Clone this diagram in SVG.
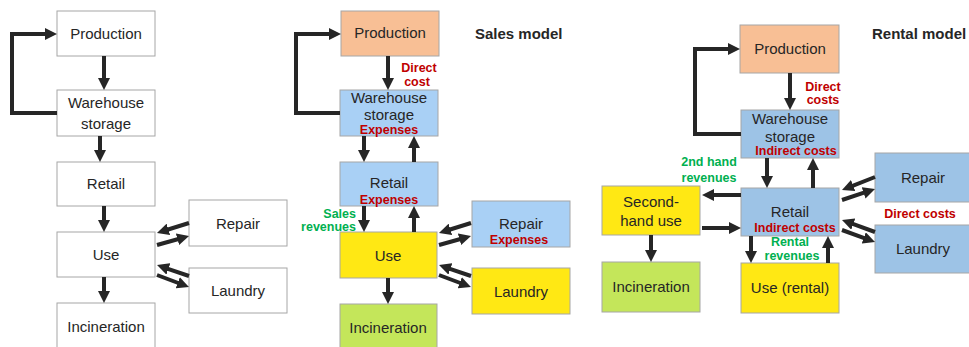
<svg xmlns="http://www.w3.org/2000/svg" width="969" height="347" viewBox="0 0 969 347">
<defs>
<marker id="ah" markerUnits="userSpaceOnUse" markerWidth="12" markerHeight="12" viewBox="0 0 12 12" refX="2" refY="6" orient="auto">
<path d="M0,0 L12,6 L0,12 z" fill="#262626"/>
</marker>
<style>
.box{stroke:#A6A6A6;stroke-width:1}
.w{fill:#FFFFFF}
.or{fill:#F8BF95}
.lb{fill:#A9D0F5}
.bl{fill:#9DC3E6}
.ye{fill:#FFE814}
.gr{fill:#C4E65A}
.t{font-family:"Liberation Sans",Arial,sans-serif;font-size:15px;fill:#262626;text-anchor:middle}
.red{font-family:"Liberation Sans",Arial,sans-serif;font-size:12.5px;font-weight:bold;fill:#C00000;text-anchor:middle}
.grn{font-family:"Liberation Sans",Arial,sans-serif;font-size:12.5px;font-weight:bold;fill:#00B050;text-anchor:middle}
.ttl{font-family:"Liberation Sans",Arial,sans-serif;font-size:15px;font-weight:bold;fill:#262626}
.c line,.c path{stroke:#262626;stroke-width:4;fill:none;marker-end:url(#ah)}
</style>
</defs>
<rect width="969" height="347" fill="#FFFFFF"/>

<!-- Left (generic) -->
<g id="l-production"><rect class="box w" x="57" y="11" width="98" height="45"/><text class="t" x="106" y="39">Production</text></g>
<g id="l-warehouse"><rect class="box w" x="57" y="90" width="98" height="46"/><text class="t" x="106" y="108">Warehouse</text><text class="t" x="106" y="129">storage</text></g>
<g id="l-retail"><rect class="box w" x="57" y="162" width="98" height="44"/><text class="t" x="106" y="189">Retail</text></g>
<g id="l-use"><rect class="box w" x="57" y="232" width="98" height="45"/><text class="t" x="106" y="260">Use</text></g>
<g id="l-incineration"><rect class="box w" x="57" y="303" width="98" height="50"/><text class="t" x="106" y="332">Incineration</text></g>
<g id="l-repair"><rect class="box w" x="189" y="200" width="98" height="46"/><text class="t" x="238" y="229">Repair</text></g>
<g id="l-laundry"><rect class="box w" x="189" y="268" width="98" height="45"/><text class="t" x="238" y="296">Laundry</text></g>

<!-- Middle (sales model) -->
<text id="sales-title" class="ttl" x="475" y="39">Sales model</text>
<g id="m-production"><rect class="box or" x="341" y="11" width="98" height="45"/><text class="t" x="390" y="38">Production</text></g>
<g id="m-warehouse"><rect class="box lb" x="340" y="90" width="98" height="46"/><text class="t" x="389" y="103">Warehouse</text><text class="t" x="389" y="120">storage</text><text class="red" x="389" y="134">Expenses</text></g>
<g id="m-retail"><rect class="box lb" x="340" y="162" width="98" height="44"/><text class="t" x="389" y="188">Retail</text><text class="red" x="389" y="204">Expenses</text></g>
<g id="m-use"><rect class="box ye" x="340" y="232" width="97" height="46"/><text class="t" x="388" y="261">Use</text></g>
<g id="m-incineration"><rect class="box gr" x="340" y="304" width="97" height="50"/><text class="t" x="388" y="333">Incineration</text></g>
<g id="m-repair"><rect class="box lb" x="472" y="201" width="98" height="46"/><text class="t" x="521" y="229">Repair</text><text class="red" x="519" y="244">Expenses</text></g>
<g id="m-laundry"><rect class="box ye" x="472" y="268" width="98" height="46"/><text class="t" x="521" y="297">Laundry</text></g>
<g id="m-labels">
<text class="red" x="419" y="72">Direct</text><text class="red" x="417" y="86">cost</text>
<text class="grn" x="356" y="218" style="text-anchor:end">Sales</text><text class="grn" x="356" y="231" style="text-anchor:end">revenues</text>
</g>

<!-- Right (rental model) -->
<text id="rental-title" class="ttl" x="872" y="39">Rental model</text>
<g id="r-production"><rect class="box or" x="740" y="25" width="99" height="48"/><text class="t" x="790" y="54">Production</text></g>
<g id="r-warehouse"><rect class="box bl" x="741" y="110" width="98" height="48"/><text class="t" x="790" y="124">Warehouse</text><text class="t" x="790" y="142">storage</text><text class="red" x="796" y="155">Indirect costs</text></g>
<g id="r-retail"><rect class="box bl" x="741" y="188" width="98" height="48"/><text class="t" x="790" y="217">Retail</text><text class="red" x="795" y="232">Indirect costs</text></g>
<g id="r-secondhand"><rect class="box ye" x="602" y="186" width="98" height="49"/><text class="t" x="651" y="207">Second-</text><text class="t" x="651" y="226">hand use</text></g>
<g id="r-incineration"><rect class="box gr" x="602" y="262" width="98" height="50"/><text class="t" x="651" y="292">Incineration</text></g>
<g id="r-use"><rect class="box ye" x="741" y="263" width="98" height="50"/><text class="t" x="790" y="293">Use (rental)</text></g>
<g id="r-repair"><rect class="box bl" x="875" y="153" width="100" height="49"/><text class="t" x="923" y="183">Repair</text></g>
<g id="r-laundry"><rect class="box bl" x="875" y="225" width="100" height="48"/><text class="t" x="923" y="254">Laundry</text></g>
<g id="r-labels">
<text class="red" x="823" y="91">Direct</text><text class="red" x="823" y="104">costs</text>
<text class="grn" x="709" y="166">2nd hand</text><text class="grn" x="709" y="182">revenues</text>
<text class="grn" x="790" y="246">Rental</text><text class="grn" x="792" y="260">revenues</text>
<text class="red" x="920" y="218">Direct costs</text>
</g>

<g id="connectors" class="c">
<!-- left -->
<path d="M57,113 H12 V34 H47"/>
<line x1="104" y1="56" x2="104" y2="80"/>
<line x1="100" y1="136" x2="100" y2="152"/>
<line x1="104" y1="206" x2="104" y2="222"/>
<line x1="104" y1="277" x2="104" y2="293"/>
<line x1="189" y1="223" x2="166.5" y2="230"/>
<line x1="157" y1="245" x2="179.4" y2="238.7"/>
<line x1="189" y1="276" x2="166.5" y2="268.3"/>
<line x1="157" y1="275" x2="179.6" y2="283.5"/>
<!-- middle -->
<path d="M340,113 H296 V34 H331"/>
<line x1="388" y1="56" x2="388" y2="80"/>
<line x1="364" y1="136" x2="364" y2="152"/>
<line x1="414" y1="162" x2="414" y2="146"/>
<line x1="364" y1="206" x2="364" y2="222"/>
<line x1="414" y1="232" x2="414" y2="216"/>
<line x1="388" y1="278" x2="388" y2="294"/>
<line x1="471" y1="223" x2="448.5" y2="230"/>
<line x1="439" y1="245" x2="461.4" y2="238.7"/>
<line x1="471" y1="276" x2="448.5" y2="268.3"/>
<line x1="439" y1="275" x2="461.6" y2="283.5"/>
<!-- right -->
<path d="M741,134 H695 V49 H730"/>
<line x1="790" y1="73" x2="790" y2="100"/>
<line x1="767" y1="158" x2="767" y2="178"/>
<line x1="813" y1="188" x2="813" y2="168"/>
<line x1="741" y1="195" x2="712" y2="195"/>
<line x1="702" y1="228" x2="731" y2="228"/>
<line x1="651" y1="235" x2="651" y2="252"/>
<line x1="751" y1="236" x2="751" y2="253"/>
<line x1="828" y1="263" x2="828" y2="246"/>
<line x1="875" y1="177" x2="851.3" y2="186.3"/>
<line x1="842" y1="200" x2="865.5" y2="192.2"/>
<line x1="875" y1="232" x2="851.4" y2="223.4"/>
<line x1="842" y1="230" x2="865.6" y2="238.6"/>
</g>
</svg>
